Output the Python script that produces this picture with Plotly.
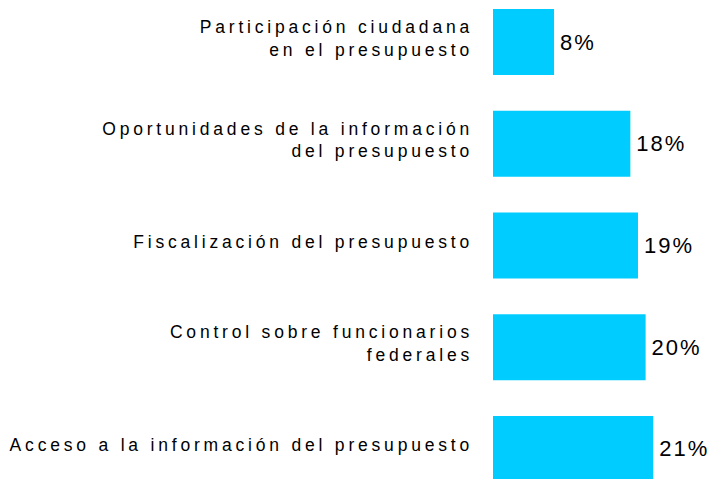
import plotly.graph_objects as go

categories = [
    "Participación ciudadana<br>en el presupuesto",
    "Oportunidades de la información<br>del presupuesto",
    "Fiscalización del presupuesto",
    "Control sobre funcionarios<br>federales",
    "Acceso a la información del presupuesto",
]
values = [8, 18, 19, 20, 21]

fig = go.Figure(
    go.Bar(
        x=values,
        y=categories,
        orientation="h",
        marker=dict(color="#00CCFF", line=dict(width=0)),
        width=0.65,
        text=[f"{v}%" for v in values],
        textposition="outside",
        textfont=dict(family="Arial, Liberation Sans", size=22, color="#000000"),
        cliponaxis=False,
        hoverinfo="skip",
    )
)

fig.update_layout(
    width=712,
    height=479,
    margin=dict(l=493, r=0, t=0, b=0, autoexpand=False),
    paper_bgcolor="white",
    plot_bgcolor="white",
    showlegend=False,
    font=dict(family="Arial, Liberation Sans", size=17, color="#000000"),
    xaxis=dict(range=[0, 28.7], visible=False, fixedrange=True),
    yaxis=dict(
        type="category",
        categoryorder="array",
        categoryarray=categories,
        range=[4.295, -0.413],
        showgrid=False,
        zeroline=False,
        showline=False,
        ticks="",
        automargin=False,
        ticklabelstandoff=19,
        ticklabelshift=4,
        tickfont=dict(family="Arial, Liberation Sans", size=17.5, color="#000000"),
        fixedrange=True,
    ),
)

post = """
document.body.style.margin = '0';
var gd = document.getElementById('{plot_id}');
function sp(){
  gd.querySelectorAll('.ytick text').forEach(function(t){t.style.letterSpacing='3.8px';});
  gd.querySelectorAll('text.bartext').forEach(function(t){
    if (t.dataset.sp) return;
    var w0 = t.getComputedTextLength();
    t.style.letterSpacing = '2px';
    var w1 = t.getComputedTextLength();
    var x = parseFloat(t.getAttribute('x') || '0');
    t.setAttribute('x', x + (w1 - w0) / 2 + 3);
    t.dataset.sp = '1';
  });
}
sp();
gd.on('plotly_afterplot', sp);
"""

fig.write_html("out.html", post_script=post, config={"displayModeBar": False, "staticPlot": True})
